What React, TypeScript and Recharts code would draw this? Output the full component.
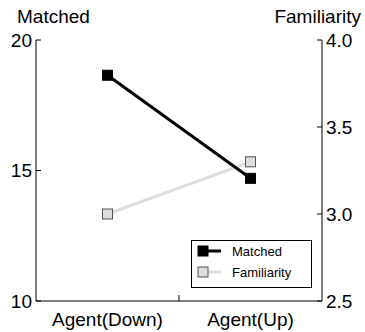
import React from 'react'
import { Line, LineChart, XAxis, YAxis } from 'recharts'

const categories = ['Agent(Down)', 'Agent(Up)']
const matched = [18.65, 14.7]
const familiarity = [3.0, 3.3]
const leftTicks = [10, 15, 20]
const rightTicks = [2.5, 3.0, 3.5, 4.0]

const data = categories.map((name, i) => ({
  x: i + 0.5,
  name,
  matched: matched[i],
  familiarity: familiarity[i],
}))

const FONT = 'Liberation Sans, Arial, sans-serif'

const SquareDot = (fill: string, stroke: string) => (props: any) => {
  const { cx, cy, key } = props
  if (cx == null || cy == null) return null
  return <rect key={key} x={cx - 5} y={cy - 5} width={10} height={10} fill={fill} stroke={stroke} strokeWidth={1} />
}

// x axis: labels at the band centres, one small inward tick at the split
const XTick = (props: any) => {
  const { x, y, payload } = props
  if (payload.value === 1) {
    return <line x1={x} x2={x} y1={y} y2={y - 6} stroke="#000" strokeWidth={1} />
  }
  const idx = Math.floor(payload.value)
  return (
    <text x={x} y={y + 25} textAnchor="middle" fontSize={19} fill="#000" fontFamily={FONT}>
      {categories[idx]}
    </text>
  )
}

const Overlay = () => (
  <svg width={365} height={332} style={{ position: 'absolute', left: 0, top: 0, pointerEvents: 'none' }}>
    <text x={17} y={23} fontSize={19} fontFamily={FONT} fill="#000">Matched</text>
    <text x={361} y={23} fontSize={19} fontFamily={FONT} fill="#000" textAnchor="end">Familiarity</text>
    <g transform="translate(191,240)">
      <rect x={0.5} y={0.5} width={120} height={47} fill="#fff" stroke="#000" strokeWidth={1} />
      <line x1={10} x2={30} y1={11} y2={11} stroke="#000" strokeWidth={3} />
      <rect x={7} y={6} width={10} height={10} fill="#000" stroke="#000" />
      <text x={41} y={15.5} fontSize={13} fontFamily={FONT} fill="#000">Matched</text>
      <line x1={10} x2={30} y1={32} y2={32} stroke="#ddd" strokeWidth={3} />
      <rect x={7} y={27} width={10} height={10} fill="#ddd" stroke="#555" />
      <text x={41} y={36.5} fontSize={13} fontFamily={FONT} fill="#000">Familiarity</text>
    </g>
  </svg>
)

export default function App() {
  return (
    <div style={{ position: 'absolute', left: 0, top: 0, width: 365, height: 332, background: '#fff' }}>
      <LineChart width={365} height={332} data={data} margin={{ top: 40, right: 0, bottom: 0, left: 0 }}>
        <XAxis
          dataKey="x"
          type="number"
          domain={[0, 2]}
          ticks={[0.5, 1, 1.5]}
          tick={<XTick />}
          tickLine={false}
          tickSize={0}
          tickMargin={0}
          height={31}
          axisLine={{ stroke: '#000', strokeWidth: 1 }}
        />
        <YAxis
          yAxisId="left"
          domain={[10, 20]}
          ticks={leftTicks}
          width={36}
          tickSize={-5}
          tickMargin={9}
          axisLine={{ stroke: '#000', strokeWidth: 1 }}
          tickLine={{ stroke: '#000' }}
          tick={{ fill: '#000', fontSize: 19, fontFamily: FONT }}
        />
        <YAxis
          yAxisId="right"
          orientation="right"
          domain={[2.5, 4.0]}
          ticks={rightTicks}
          tickFormatter={(v: number) => v.toFixed(1)}
          width={43}
          tickSize={-5}
          tickMargin={9}
          axisLine={{ stroke: '#000', strokeWidth: 1 }}
          tickLine={{ stroke: '#000' }}
          tick={{ fill: '#000', fontSize: 19, fontFamily: FONT }}
        />
        <Line
          yAxisId="right"
          dataKey="familiarity"
          stroke="#dddddd"
          strokeWidth={3}
          dot={SquareDot('#dddddd', '#555')}
          activeDot={false}
          isAnimationActive={false}
        />
        <Line
          yAxisId="left"
          dataKey="matched"
          stroke="#000"
          strokeWidth={3}
          dot={SquareDot('#000', '#000')}
          activeDot={false}
          isAnimationActive={false}
        />
      </LineChart>
      <Overlay />
    </div>
  )
}
